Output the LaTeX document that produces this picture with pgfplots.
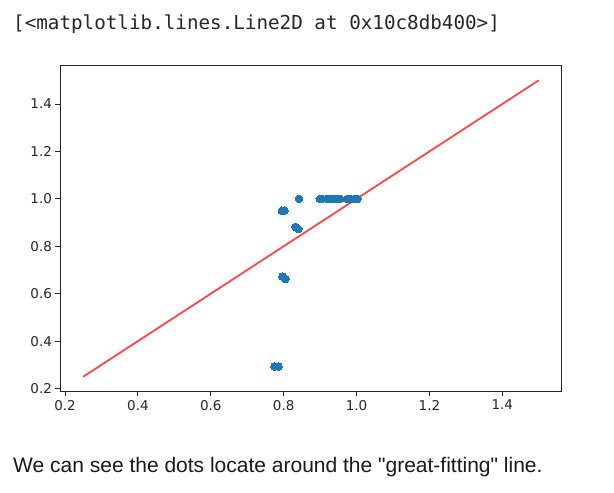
\documentclass[border=0pt]{standalone}
\usepackage{pgfplots}
\pgfplotsset{compat=1.18}
\usepackage{fontspec}
\setmainfont{DejaVu Sans}
\newfontfamily\monofont{DejaVu Sans Mono}
\newfontfamily\arialfont{Liberation Sans}
\definecolor{mplblue}{HTML}{1F77B4}
\definecolor{linered}{RGB}{255,70,70}
\begin{document}
\begin{tikzpicture}[x=1pt,y=1pt]
\path[use as bounding box] (0,0) rectangle (614,493);
\node[anchor=base west,inner sep=0pt,text=black!85] at (13,463) {\monofont\fontsize{19.25}{22}\selectfont [<matplotlib.lines.Line2D at 0x10c8db400>]};
\node[anchor=base west,inner sep=0pt,text=black!90] at (13,20) {\arialfont\fontsize{21}{25}\selectfont We can see the dots locate around the "great-fitting" line.};
\begin{axis}[
  at={(60.5pt,101.5pt)}, anchor=south west,
  scale only axis, width=501pt, height=326pt,
  xmin=0.1875, xmax=1.5625, ymin=0.1875, ymax=1.5625,
  xtick={0.2,0.4,...,1.41}, ytick={0.2,0.4,...,1.41},
  xtick pos=bottom, ytick pos=left,
  tick align=outside, major tick length=5pt,
  every tick/.style={black!85, line width=1pt},
  axis line style={black!85, line width=1pt},
  ticklabel style={font=\fontsize{13.5}{16}\selectfont, text=black!85},
  /pgf/number format/.cd, fixed, fixed zerofill, precision=1, assume math mode=true,
]
\addplot[only marks, mark=*, color=mplblue, mark size=3.8pt, mark options={fill=mplblue, draw=mplblue, line width=0pt}] coordinates {
(0.775,0.293) (0.786,0.293)
(0.797,0.672) (0.805,0.662)
(0.795,0.950) (0.802,0.950)
(0.832,0.882) (0.840,0.873)
(0.842,1.000)
(0.899,1.0) (0.906,1.0) (0.918,1.0) (0.927,1.0) (0.936,1.0) (0.945,1.0) (0.955,1.0) (0.975,1.0) (0.984,1.0) (0.994,1.0) (1.003,1.0)
};
\addplot[linered, line width=1.8pt] coordinates {(0.25,0.25) (1.5,1.5)};
\end{axis}
\end{tikzpicture}
\end{document}
